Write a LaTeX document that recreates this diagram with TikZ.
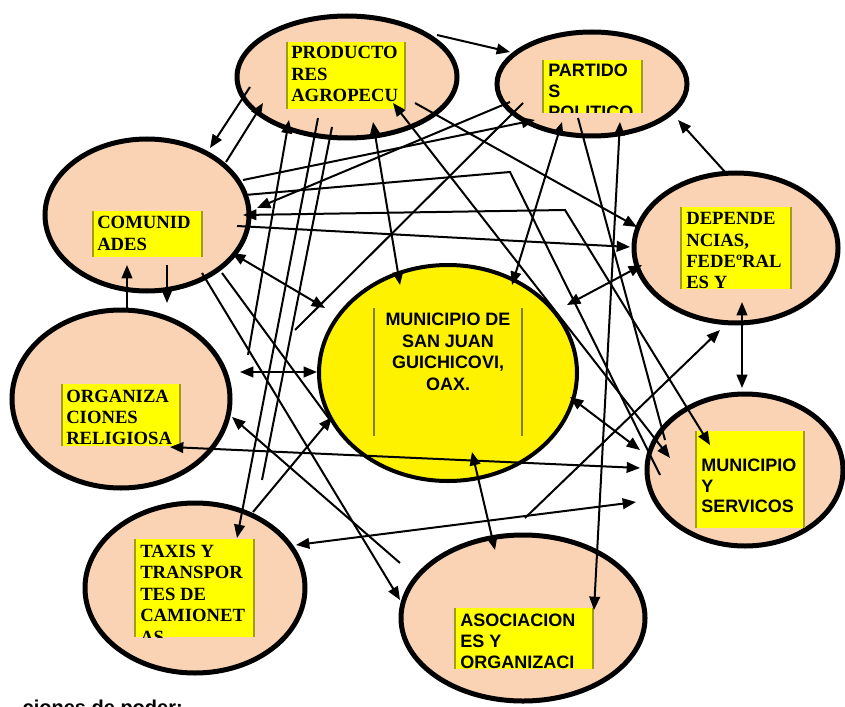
\documentclass[tikz,border=0pt]{standalone}
\usepackage{fontspec}
\setmainfont{Liberation Serif}
\setsansfont{Liberation Sans}
\usetikzlibrary{arrows.meta,shapes.geometric}
\definecolor{peach}{HTML}{FAD3B4}
\definecolor{boxy}{HTML}{FFFF00}
\definecolor{olivey}{HTML}{A39B1E}
\begin{document}
\begin{tikzpicture}[x=0.75pt,y=-0.75pt,
  ell/.style={ellipse,draw,line width=3.75pt,fill=peach,inner sep=0pt},
  con/.style={line width=1.5pt},
  a/.style={con,-{Triangle[length=10pt,width=8pt]}},
  aa/.style={con,{Triangle[length=10pt,width=8pt]}-{Triangle[length=10pt,width=8pt]}},
  sl/.style={font=\fontsize{14}{16}\selectfont\bfseries,anchor=base west,inner sep=0pt},
  ss/.style={font=\sffamily\fontsize{13.5}{16}\selectfont\bfseries,anchor=base west,inner sep=0pt},
  sc/.style={font=\sffamily\fontsize{13.5}{16}\selectfont\bfseries,anchor=base,inner sep=0pt},
]
\useasboundingbox (0,0) rectangle (845,706);
\clip (0,0) rectangle (845,706);
% ellipses
\node[ell,minimum width=165pt,minimum height=91.5pt] (prod) at (347,77) {};
\node[ell,minimum width=142.5pt,minimum height=78pt] (part) at (592,84) {};
\node[ell,minimum width=153pt,minimum height=114pt] (comun) at (147,215) {};
\node[ell,minimum width=153pt,minimum height=112.5pt] (dep) at (736,248) {};
\node[ell,minimum width=163.5pt,minimum height=133.5pt] (org) at (121,399) {};
\node[ell,fill=yellow,line width=3pt,minimum width=193.5pt,minimum height=162pt] (mun) at (448,373) {};
\node[ell,minimum width=147pt,minimum height=114pt] (serv) at (745,470) {};
\node[ell,minimum width=165pt,minimum height=127.5pt] (taxi) at (195,588) {};
\node[ell,minimum width=183pt,minimum height=124.5pt] (asoc) at (523,618) {};
% boxes
\newcommand{\ybox}[4]{\fill[boxy] (#1,#2) rectangle (#3,#4);
  \draw[olivey,line width=1.2pt] (#1,#2)--(#1,#4) (#3,#2)--(#3,#4);}
\ybox{287}{42}{405}{109}
\ybox{543}{60}{642}{113}
\ybox{93}{211}{202}{257}
\ybox{681}{207}{791}{289}
\ybox{62}{384}{180}{446}
\ybox{696}{431}{804}{528}
\ybox{135}{539}{254}{637}
\ybox{455}{608}{593}{669}
\draw[olivey!80!black,line width=1.5pt] (374,308)--(374,436) (522,308)--(522,436);
% texts
\node[sl] (t1) at (291,59) {PRODUCTO};
\node[sl] (t2) at (291,81) {RES};
\node[sl] (t3) at (291,102) {AGROPECU};
\begin{scope}
\clip (543,60) rectangle (642,113);
\node[ss] (t4) at (548,77) {PARTIDO};
\node[ss] (t5) at (548,98) {S};
\node[ss] (t6) at (548,119) {POLITICO};
\end{scope}
\node[sl] (t7) at (97,228) {COMUNID};
\node[sl] (t8) at (97,250) {ADES};
\node[sl] (t9) at (686,224) {DEPENDE};
\node[sl] (t10) at (686,246) {NCIAS,};
\node[sl] (t11) at (686,267) {FEDEºRAL};
\node[sl] (t12) at (686,288) {ES Y};
\node[sl] (t13) at (66,402) {ORGANIZA};
\node[sl] (t14) at (66,423) {CIONES};
\node[sl] (t15) at (66,444) {RELIGIOSA};
\node[sc] (t16) at (448,325) {MUNICIPIO DE};
\node[sc] (t17) at (448,347) {SAN JUAN};
\node[sc] (t18) at (448,368) {GUICHICOVI,};
\node[sc] (t19) at (448,390) {OAX.};
\node[ss] (t20) at (701,471) {MUNICIPIO};
\node[ss] (t21) at (701,492) {Y};
\node[ss] (t22) at (701,512) {SERVICOS};
\begin{scope}
\clip (135,539) rectangle (254,637);
\node[sl] (t23) at (140,557) {TAXIS Y};
\node[sl] (t24) at (140,578.5) {TRANSPOR};
\node[sl] (t25) at (140,600) {TES DE};
\node[sl] (t26) at (140,621.5) {CAMIONET};
\node[sl] (t27) at (140,643) {AS};
\end{scope}
\begin{scope}
\clip (455,608) rectangle (593,669);
\node[ss] (t28) at (460,626) {ASOCIACION};
\node[ss] (t29) at (460,647) {ES Y};
\node[ss] (t30) at (460,668) {ORGANIZACI};
\end{scope}
\node[font=\sffamily\fontsize{15}{18}\selectfont\bfseries,anchor=base east,inner sep=0pt] (cap) at (183,714) {ciones de poder:};
% connectors
\draw[a] (437,35) -- (510,52);
\draw[a] (250,87) -- (210,148);
\draw[a] (226,162) -- (263,103);
\draw[a] (248,355) -- (289,120);
\draw[a] (318,118) -- (237,538);
\draw[con] (332,127) -- (262,480);
\draw[aa] (373,122) -- (400,285);
\draw[aa] (393,103) -- (670,458);
\draw[a] (415,103) -- (637,227);
\draw[a] (510,102) -- (257,208);
\draw[a] (243,180) -- (535,120);
\draw[con] (523,103) -- (295,330);
\draw[aa] (562,122) -- (512,285);
\draw[con] (578,118) -- (665,440);
\draw[aa] (620,122) -- (594,610);
\draw[a] (725,172) -- (678,120);
\draw[aa] (742,302) -- (742,388);
\draw[aa] (567,305) -- (642,265);
\draw[a] (237,226) -- (630,247);
\draw[con,{Triangle[length=10pt,width=8pt]}-{Triangle[length=10pt,width=8pt]}] (243,215) -- (565,210) -- (710,445);
\draw[con] (245,195) -- (510,172) -- (660,475);
\draw[aa] (232,253) -- (325,308);
\draw[a] (202,273) -- (400,600);
\draw[con] (222,273) -- (330,420);
\draw[a] (400,563) -- (232,417);
\draw[a] (127,308) -- (127,265);
\draw[a] (167,265) -- (167,303);
\draw[aa] (240,372) -- (317,372);
\draw[aa] (170,447) -- (640,468);
\draw[aa] (472,452) -- (495,550);
\draw[aa] (570,397) -- (640,450);
\draw[aa] (296,545) -- (636,502);
\draw[a] (253,512) -- (332,417);
\draw[a] (525,518) -- (720,330);
\end{tikzpicture}
\end{document}
